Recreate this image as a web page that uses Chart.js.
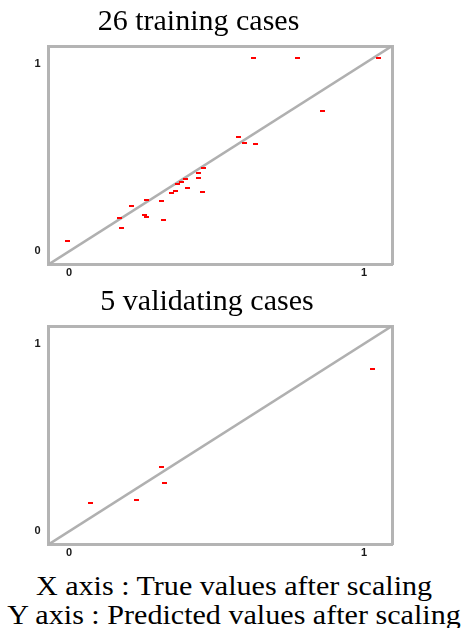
<!DOCTYPE html>
<html>
<head>
<meta charset="utf-8">
<script src="https://cdn.jsdelivr.net/npm/chart.js@4.4.1/dist/chart.umd.min.js"></script>
<style>
    html, body { margin: 0; padding: 0; background: #fff; }
    body { width: 464px; height: 628px; position: relative; overflow: hidden; }
    canvas { position: absolute; left: 0; }
    #trainChart { top: 0; }
    #validChart { top: 280px; }
    .caption {
        position: absolute;
        left: 0;
        width: 468px;
        text-align: center;
        font-family: "Liberation Serif", "Times New Roman", serif;
        font-size: 28px;
        line-height: 29px;
        color: #000;
        white-space: nowrap;
        transform: scaleX(1.075);
        transform-origin: 234px 0;
    }
</style>
</head>
<body>
<canvas id="trainChart" width="400" height="280"></canvas>
<canvas id="validChart" width="400" height="280"></canvas>
<div class="caption" style="top:571px">X axis : True values after scaling</div>
<div class="caption" style="top:600px">Y axis : Predicted values after scaling</div>

<script>
// Data (scaled values)
const trainTrue = [0.626, 0.776, 1.049, 0.860, 0.574, 0.594, 0.633, 0.457, 0.438, 0.438,
                   0.393, 0.380, 0.367, 0.400, 0.360, 0.347, 0.451, 0.262, 0.314, 0.210,
                   0.172, 0.254, 0.262, 0.321, 0.178, -0.004];
const trainPred = [1.029, 1.029, 1.029, 0.748, 0.611, 0.578, 0.571, 0.446, 0.420, 0.393,
                   0.386, 0.368, 0.361, 0.336, 0.322, 0.310, 0.317, 0.276, 0.270, 0.244,
                   0.178, 0.192, 0.185, 0.166, 0.125, 0.054];

const validTrue = [1.029, 0.312, 0.324, 0.227, 0.073];
const validPred = [0.867, 0.343, 0.258, 0.167, 0.153];

const tickValues = [0, 1];
const axisMin = -0.07;
const axisMax = 1.095;

// Styles
const boxColor = '#b4b4b4';
const lineColor = '#b0b0b0';
const tickFont = { family: '"Liberation Sans", Arial, sans-serif', size: 11, weight: 'bold' };
const titleFont = { family: '"Liberation Serif", "Times New Roman", serif', size: 30, weight: 'normal', lineHeight: 1.2 };

// Small red dash used as point marker
const marker = document.createElement('canvas');
marker.width = 5;
marker.height = 2;
const mctx = marker.getContext('2d');
mctx.fillStyle = '#ff0000';
mctx.fillRect(0, 0, 5, 2);

function buildPoints(xs, ys) {
    return xs.map((x, i) => ({ x: x, y: ys[i] }));
}

function setTicks(scale) {
    scale.ticks = tickValues.map(v => ({ value: v }));
}

/**
 * Axis used only to draw the top / right edge of the box
 */
function edgeAxis(axis, position) {
    return {
        type: 'linear',
        axis: axis,
        position: position,
        min: axisMin,
        max: axisMax,
        grid: { display: false, drawTicks: false },
        border: { display: true, color: boxColor, width: 3 },
        ticks: { display: false },
        afterFit: function(scale) {
            if (axis === 'x') scale.height = 0;
            else scale.width = 0;
        }
    };
}

function makeChart(canvasId, titleText, xs, ys, padLeft) {
    const ctx = document.getElementById(canvasId).getContext('2d');

    return new Chart(ctx, {
        type: 'scatter',
        data: {
            datasets: [
                {
                    label: 'cases',
                    data: buildPoints(xs, ys),
                    pointStyle: marker,
                    pointRadius: 3,
                    pointHoverRadius: 3
                },
                {
                    label: 'y = x',
                    data: [{ x: axisMin, y: axisMin }, { x: axisMax, y: axisMax }],
                    showLine: true,
                    borderColor: lineColor,
                    borderWidth: 2.5,
                    pointRadius: 0,
                    fill: false
                }
            ]
        },
        options: {
            responsive: false,
            animation: false,
            devicePixelRatio: 1,
            layout: {
                padding: { left: padLeft, right: 8, top: 0, bottom: 0 }
            },
            plugins: {
                legend: { display: false },
                tooltip: { enabled: false },
                title: {
                    display: true,
                    text: titleText,
                    color: '#000',
                    font: titleFont,
                    padding: { top: 4, bottom: 6 }
                }
            },
            scales: {
                x: {
                    type: 'linear',
                    position: 'bottom',
                    min: axisMin,
                    max: axisMax,
                    grid: { display: false, drawTicks: false },
                    border: { display: true, color: boxColor, width: 3 },
                    ticks: { color: '#1a1a1a', font: tickFont, padding: 2 },
                    afterBuildTicks: setTicks,
                    afterFit: function(scale) { scale.height = 15.5; }
                },
                y: {
                    type: 'linear',
                    position: 'left',
                    min: axisMin,
                    max: axisMax,
                    grid: { display: false, drawTicks: false },
                    border: { display: true, color: boxColor, width: 3 },
                    ticks: { color: '#1a1a1a', font: tickFont, padding: 8 },
                    afterBuildTicks: setTicks,
                    afterFit: function(scale) { scale.width = 48.5 - padLeft; }
                },
                xTop: edgeAxis('x', 'top'),
                yRight: edgeAxis('y', 'right')
            }
        }
    });
}

makeChart('trainChart', '26 training cases', trainTrue, trainPred, 5);
makeChart('validChart', '5 validating cases', validTrue, validPred, 22);
</script>
</body>
</html>
